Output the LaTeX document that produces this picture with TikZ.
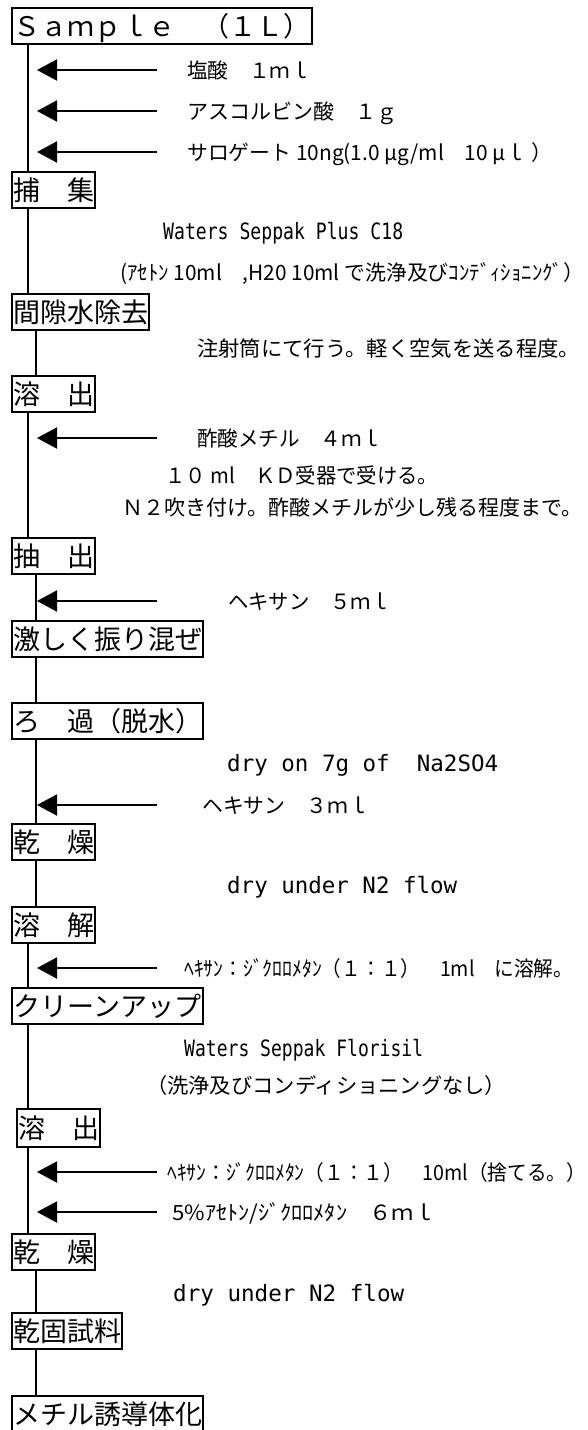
\documentclass[tikz,border=0pt]{standalone}
\usepackage{fontspec}
\usepackage{graphicx}
\usetikzlibrary{arrows.meta}
\newfontfamily\jp{Noto Sans CJK JP}
\newfontfamily\mono{DejaVu Sans Mono}
\newfontfamily\nmono[FakeStretch=0.8]{DejaVu Sans Mono}
\newcommand\fitw[2]{\resizebox{#1pt}{\height}{#2}}
\tikzset{
  box/.style={draw, line width=2pt, inner xsep=1pt, inner ysep=0pt, minimum height=36pt,
    anchor=north west, font=\jp\fontsize{27}{27}\selectfont, text height=23.8pt, text depth=3.2pt},
  lbl/.style={anchor=west, inner sep=0pt, font=\jp\fontsize{21}{21}\selectfont, text height=18.5pt, text depth=2.5pt},
  mlbl/.style={anchor=west, inner sep=0pt, font=\mono\fontsize{22.5}{22.5}\selectfont, text height=17pt, text depth=0pt},
  nlbl/.style={anchor=west, inner sep=0pt, font=\nmono\fontsize{22.5}{22.5}\selectfont, text height=17pt, text depth=0pt},
  conn/.style={line width=2pt},
  arr/.style={line width=2pt, -{Triangle[length=20pt,width=21pt]}},
}
\begin{document}
\begin{tikzpicture}[x=1pt,y=-1pt]
\useasboundingbox (0,0) rectangle (587,1430);
% boxes
\node[box, minimum width=300pt] (b1) at (11,7) {Ｓａｍｐｌｅ　（１Ｌ）};
\node[box, minimum width=83pt] (b2) at (11,171) {捕　集};
\node[box, minimum width=136pt] (b3) at (11,293) {間隙水除去};
\node[box, minimum width=83pt] (b4) at (11,375) {溶　出};
\node[box, minimum width=83pt] (b5) at (11,537) {抽　出};
\node[box, minimum width=191pt] (b6) at (11,620) {激しく振り混ぜ};
\node[box, minimum width=191pt] (b7) at (11,702) {ろ　過（脱水）};
\node[box, minimum width=83pt] (b8) at (11,823) {乾　燥};
\node[box, minimum width=83pt] (b9) at (11,906) {溶　解};
\node[box, minimum width=191pt] (b10) at (11,987) {クリーンアップ};
\node[box, minimum width=83pt, minimum height=38pt] (b11) at (16,1108) {溶　出};
\node[box, minimum width=83pt] (b12) at (11,1233) {乾　燥};
\node[box, minimum width=110pt] (b13) at (11,1312) {乾固試料};
\node[box, minimum width=191pt] (b14) at (11,1395) {メチル誘導体化};
% connector x positions
\coordinate (xa) at (28,0);
\coordinate (xb) at (36,0);
\draw[conn] (b1.south -| xa) -- (b2.north -| xa);
\draw[conn] (b2.south -| xa) -- (b3.north -| xa);
\draw[conn] (b3.south -| xb) -- (b4.north -| xb);
\draw[conn] (b4.south -| xa) -- (b5.north -| xa);
\draw[conn] (b5.south -| xb) -- (b6.north -| xb);
\draw[conn] (b6.south -| xb) -- (b7.north -| xb);
\draw[conn] (b7.south -| xb) -- (b8.north -| xb);
\draw[conn] (b8.south -| xb) -- (b9.north -| xb);
\draw[conn] (b9.south -| xa) -- (b10.north -| xa);
\draw[conn] (b10.south -| xa) -- (b11.north -| xa);
\draw[conn] (b11.south -| xa) -- (b12.north -| xa);
\draw[conn] (b12.south -| xb) -- (b13.north -| xb);
\draw[conn] (b13.south -| xb) -- (b14.north -| xb);
% arrows
\foreach \n/\y in {1/70, 2/111, 3/152, 4/438, 5/601, 6/805, 7/968, 8/1172, 9/1212}{
  \coordinate (t\n) at (157,\y);
  \coordinate (h\n) at (37,\y);
  \draw[arr] (t\n) -- (h\n);
}
% labels
\node[lbl] (l1) at (187,70) {\fitw{124}{塩酸　１ｍｌ}};
\node[lbl] (l2) at (187,111) {\fitw{210}{アスコルビン酸　１ｇ}};
\node[lbl] (l3) at (187,152) {\fitw{365}{サロゲート 10ng(1.0 μg/ml　10 μｌ ）}};
\node[nlbl] (l4) at (163,231) {\fitw{240}{Waters Seppak Plus C18}};
\node[lbl] (l5) at (120,272) {\fitw{464}{(ｱｾﾄﾝ 10ml　,H20 10ml で洗浄及びｺﾝﾃﾞｨｼｮﾆﾝｸﾞ）}};
\node[lbl] (l6) at (197,348) {\fitw{383}{注射筒にて行う。軽く空気を送る程度。}};
\node[lbl] (l7) at (197,438) {\fitw{185}{酢酸メチル　４ｍｌ}};
\node[lbl] (l8) at (165,475) {\fitw{273}{１０ ml　ＫＤ受器で受ける。}};
\node[lbl] (l9) at (122,507) {\fitw{460}{Ｎ２吹き付け。酢酸メチルが少し残る程度まで。}};
\node[lbl] (l10) at (228,601) {\fitw{163}{ヘキサン　５ｍｌ}};
\node[mlbl] (l11) at (227,763) {\fitw{271}{dry on 7g of\ \ Na2SO4}};
\node[lbl] (l12) at (202,805) {\fitw{167}{ヘキサン　３ｍｌ}};
\node[mlbl] (l13) at (227,885) {\fitw{230}{dry under N2 flow}};
\node[lbl] (l14) at (184,968) {\fitw{389}{ﾍｷｻﾝ：ｼﾞｸﾛﾛﾒﾀﾝ（１：１）　1ml　に溶解。}};
\node[nlbl] (l15) at (184,1048) {\fitw{239}{Waters Seppak Florisil}};
\node[lbl] (l16) at (146,1085) {\fitw{360}{（洗浄及びコンディショニングなし）}};
\node[lbl] (l17) at (167,1172) {\fitw{419}{ﾍｷｻﾝ：ｼﾞｸﾛﾛﾒﾀﾝ（１：１）　10ml（捨てる。）}};
\node[lbl] (l18) at (172,1212) {\fitw{264}{5\%ｱｾﾄﾝ/ｼﾞｸﾛﾛﾒﾀﾝ　６ｍｌ}};
\node[mlbl] (l19) at (173,1293) {\fitw{231}{dry under N2 flow}};
\end{tikzpicture}
\end{document}
